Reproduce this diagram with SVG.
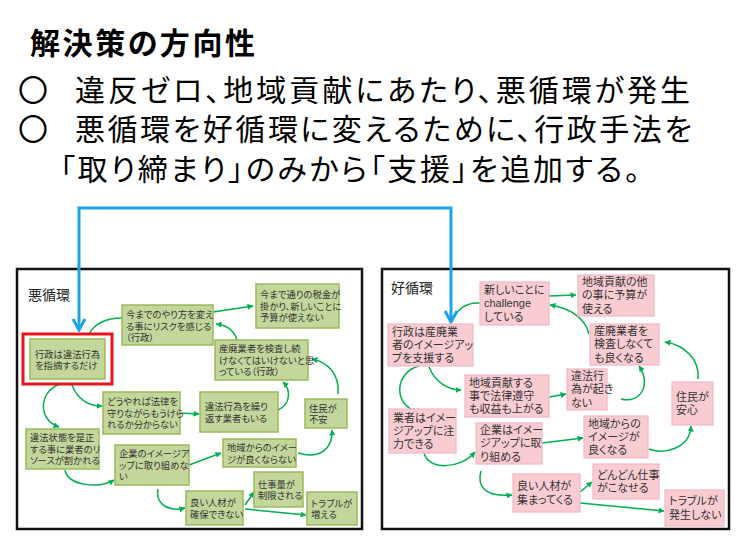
<svg xmlns="http://www.w3.org/2000/svg" width="740" height="555" viewBox="0 0 740 555">
<style>
text { font-family: "Liberation Sans", "Noto Sans CJK JP", sans-serif; font-feature-settings: "palt"; }
.hd { font-size: 30px; fill: #000; }
.ttl { font-size: 30px; font-weight: bold; fill: #000; }
.lbl { font-size: 14px; fill: #222; }
.t { font-size: 9.3px; fill: #333; }
.tr { font-size: 11px; fill: #333; }
.frame { fill: #fff; stroke: #111; stroke-width: 2.5; }
.g rect { fill: #c3d69b; stroke: #9bbb59; stroke-width: 1.5; }
.g rect.hl { fill: none; stroke: #e8141b; stroke-width: 3; }
.p rect { fill: #f9ccd2; stroke: #f3b6c8; stroke-width: 1.2; }
.c { fill: none; stroke: #00b050; stroke-width: 1.5; }
.ca { marker-end: url(#ga); }
.blue { fill: none; stroke: #1ca3e8; stroke-width: 3; }
</style>
<defs>
<marker id="ga" viewBox="0 0 6 6" refX="5.5" refY="3" markerWidth="6" markerHeight="6" markerUnits="userSpaceOnUse" orient="auto">
<path d="M0,0 L6,3 L0,6 z" fill="#00b050"/>
</marker>
<marker id="ba" viewBox="0 0 14 14" refX="12" refY="7" markerWidth="14" markerHeight="14" markerUnits="userSpaceOnUse" orient="auto-start-reverse">
<path d="M1,1 L12,7 L1,13" fill="none" stroke="#1ca3e8" stroke-width="3"/>
</marker>
</defs>
<rect width="740" height="555" fill="#fff"/>

<g id="header">
<text class="ttl" x="30" y="54" textLength="225">解決策の方向性</text>
<text class="hd"><tspan x="18" y="101">〇</tspan><tspan x="75" y="101" textLength="615">違反ゼロ、地域貢献にあたり、悪循環が発生</tspan><tspan x="18" y="140">〇</tspan><tspan x="75" y="140" textLength="617">悪循環を好循環に変えるために、行政手法を</tspan><tspan x="60" y="180" textLength="580">「取り締まり」のみから「支援」を追加する。</tspan></text>
</g>

<rect class="frame" x="17" y="269" width="345" height="260"/>
<rect class="frame" x="382" y="269" width="347" height="260"/>
<text class="lbl" x="28" y="300">悪循環</text>
<text class="lbl" x="391" y="293">好循環</text>

<g id="connectors">
<path class="c" d="M89,334 Q98,318 122,318"/>
<path class="c ca" d="M213,312 L253,306"/>
<path class="c ca" d="M237,340 Q233,326 216,324"/>
<path class="c ca" d="M278,410 C291,404 291,390 283,382"/>
<path class="c ca" d="M338,394 C340,375 328,362 312,359"/>
<path class="c ca" d="M298,453 C320,460 333,448 332,430"/>
<path class="c ca" d="M60,384 C38,392 38,420 59,427"/>
<path class="c ca" d="M72,385 C78,400 88,406 102,406"/>
<path class="c ca" d="M180,413 L199,414"/>
<path class="c ca" d="M65,470 C68,486 100,489 114,480"/>
<path class="c ca" d="M189,465 L221,453"/>
<path class="c ca" d="M158,489 C155,505 170,512 185,508"/>
<path class="c ca" d="M245,505 L254,492"/>
<path class="c ca" d="M245,509 L306,515"/>

<path class="c" d="M480,303 C468,302 458,308 454,318"/>
<path class="c ca" d="M549,296 L576,295"/>
<path class="c ca" d="M589,334 C585,318 570,308 550,305"/>
<path class="c ca" d="M621,399 C640,404 652,385 639,366"/>
<path class="c ca" d="M698,379 C700,360 685,345 665,342"/>
<path class="c ca" d="M649,449 C665,455 690,448 691,426"/>
<path class="c ca" d="M419,366 C395,372 392,405 418,412"/>
<path class="c ca" d="M429,367 C435,382 448,390 461,390"/>
<path class="c ca" d="M549,397 L566,394"/>
<path class="c ca" d="M424,453 C428,470 460,470 475,452"/>
<path class="c ca" d="M542,443 L583,438"/>
<path class="c ca" d="M481,471 C476,490 490,497 512,495"/>
<path class="c ca" d="M580,492 L592,482"/>
<path class="c ca" d="M580,503 L664,511"/>

<path class="blue" d="M79,330 V208 H451 V322" marker-start="url(#ba)" marker-end="url(#ba)"/>
</g>

<g id="n1" class="g"><rect x="30" y="339" width="75" height="40"/><rect class="hl" x="23" y="334" width="89" height="50"/>
<text class="t"><tspan x="35" y="357.5">行政は違法行為</tspan><tspan x="35" y="369">を指摘するだけ</tspan></text></g>
<g id="n2" class="g"><rect x="122" y="305" width="91" height="40"/>
<text class="t"><tspan x="126" y="318">今までのやり方を変え</tspan><tspan x="126" y="329.5">る事にリスクを感じる</tspan><tspan x="126" y="341">（行政）</tspan></text></g>
<g id="n3" class="g"><rect x="256" y="284" width="83" height="44"/>
<text class="t"><tspan x="260" y="298">今まで通りの税金が</tspan><tspan x="260" y="309.5">掛かり、新しいことに</tspan><tspan x="260" y="321">予算が使えない</tspan></text></g>
<g id="n4" class="g"><rect x="215" y="340" width="93" height="40"/>
<text class="t"><tspan x="219" y="352">産廃業者を検査し続</tspan><tspan x="219" y="363.5">けなくてはいけないと思</tspan><tspan x="219" y="375">っている（行政）</tspan></text></g>
<g id="n5" class="g"><rect x="103" y="392" width="77" height="42"/>
<text class="t"><tspan x="107" y="405">どうやれば法律を</tspan><tspan x="107" y="416.5">守りながらもうけら</tspan><tspan x="107" y="428">れるか分からない</tspan></text></g>
<g id="n6" class="g"><rect x="200" y="392" width="78" height="40"/>
<text class="t"><tspan x="205" y="410">違法行為を繰り</tspan><tspan x="205" y="421.5">返す業者もいる</tspan></text></g>
<g id="n7" class="g"><rect x="305" y="399" width="42" height="29"/>
<text class="t"><tspan x="309" y="411.5">住民が</tspan><tspan x="309" y="423">不安</tspan></text></g>
<g id="n8" class="g"><rect x="26" y="429" width="73" height="40"/>
<text class="t"><tspan x="30" y="441">違法状態を是正</tspan><tspan x="30" y="452.5">する事に業者のリ</tspan><tspan x="30" y="464">ソースが割かれる</tspan></text></g>
<g id="n9" class="g"><rect x="115" y="445" width="74" height="40"/>
<text class="t"><tspan x="119" y="457">企業のイメージア</tspan><tspan x="119" y="468.5">ップに取り組めな</tspan><tspan x="119" y="480">い</tspan></text></g>
<g id="n10" class="g"><rect x="223" y="439" width="73" height="28"/>
<text class="t"><tspan x="227" y="451">地域からのイメー</tspan><tspan x="227" y="462.5">ジが良くならない</tspan></text></g>
<g id="n11" class="g"><rect x="254" y="472" width="49" height="35"/>
<text class="t"><tspan x="258" y="487.5">仕事量が</tspan><tspan x="258" y="499">制限される</tspan></text></g>
<g id="n12" class="g"><rect x="186" y="491" width="57" height="34"/>
<text class="t"><tspan x="190" y="506">良い人材が</tspan><tspan x="190" y="517.5">確保できない</tspan></text></g>
<g id="n13" class="g"><rect x="307" y="492" width="50" height="33"/>
<text class="t"><tspan x="311" y="506.5">トラブルが</tspan><tspan x="311" y="518">増える</tspan></text></g>

<g id="r1" class="p"><rect x="480" y="282" width="69" height="43"/>
<text class="tr"><tspan x="484" y="294">新しいことに</tspan><tspan x="484" y="307.3">challenge</tspan><tspan x="484" y="320.6">している</tspan></text></g>
<g id="r2" class="p"><rect x="578" y="275" width="76" height="41"/>
<text class="tr"><tspan x="582" y="286">地域貢献の他</tspan><tspan x="582" y="299.3">の事に予算が</tspan><tspan x="582" y="312.6">使える</tspan></text></g>
<g id="r3" class="p"><rect x="388" y="324" width="85" height="42"/>
<text class="tr"><tspan x="392" y="335.5">行政は産廃業</tspan><tspan x="392" y="348.8">者のイメージアッ</tspan><tspan x="392" y="362.1">プを支援する</tspan></text></g>
<g id="r4" class="p"><rect x="590" y="324" width="69" height="41"/>
<text class="tr"><tspan x="594" y="335">産廃業者を</tspan><tspan x="594" y="348.3">検査しなくて</tspan><tspan x="594" y="361.6">も良くなる</tspan></text></g>
<g id="r5" class="p"><rect x="465" y="375" width="84" height="42"/>
<text class="tr"><tspan x="469" y="386.5">地域貢献する</tspan><tspan x="469" y="399.8">事で法律遵守</tspan><tspan x="469" y="413.1">も収益も上がる</tspan></text></g>
<g id="r6" class="p"><rect x="567" y="369" width="40" height="41"/>
<text class="tr"><tspan x="571" y="380">違法行</tspan><tspan x="571" y="393.3">為が起き</tspan><tspan x="571" y="406.6">ない</tspan></text></g>
<g id="r7" class="p"><rect x="672" y="382" width="41" height="43"/>
<text class="tr"><tspan x="676" y="400.7">住民が</tspan><tspan x="676" y="414">安心</tspan></text></g>
<g id="r8" class="p"><rect x="389" y="409" width="67" height="44"/>
<text class="tr"><tspan x="393" y="421.5">業者はイメー</tspan><tspan x="393" y="434.8">ジアップに注</tspan><tspan x="393" y="448.1">力できる</tspan></text></g>
<g id="r9" class="p"><rect x="476" y="423" width="66" height="41"/>
<text class="tr"><tspan x="480" y="434">企業はイメー</tspan><tspan x="480" y="447.3">ジアップに取</tspan><tspan x="480" y="460.6">り組める</tspan></text></g>
<g id="r10" class="p"><rect x="584" y="416" width="64" height="42"/>
<text class="tr"><tspan x="588" y="427.5">地域からの</tspan><tspan x="588" y="440.8">イメージが</tspan><tspan x="588" y="454.1">良くなる</tspan></text></g>
<g id="r11" class="p"><rect x="593" y="464" width="66" height="35"/>
<text class="tr"><tspan x="597" y="478.7">どんどん仕事</tspan><tspan x="597" y="492">がこなせる</tspan></text></g>
<g id="r12" class="p"><rect x="513" y="474" width="67" height="38"/>
<text class="tr"><tspan x="517" y="490.2">良い人材が</tspan><tspan x="517" y="503.5">集まってくる</tspan></text></g>
<g id="r13" class="p"><rect x="665" y="490" width="59" height="36"/>
<text class="tr"><tspan x="669" y="505.2">トラブルが</tspan><tspan x="669" y="518.5">発生しない</tspan></text></g>
</svg>
